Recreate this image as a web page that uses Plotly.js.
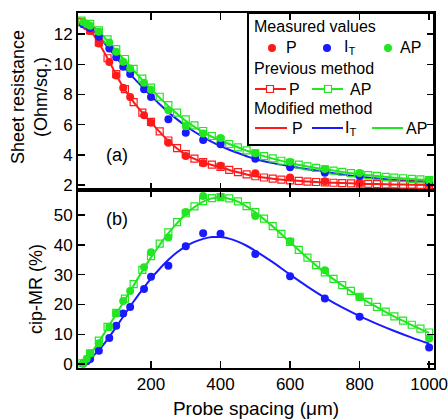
<!DOCTYPE html>
<html>
<head>
<meta charset="utf-8">
<script src="https://cdn.plot.ly/plotly-3.0.1.min.js"></script>
<style>html,body{margin:0;padding:0;background:#fff;}#chart{width:448px;height:419px;}</style>
</head>
<body>
<div id="chart"></div>
<script>
// ---- Data ----
var xMeas = [5, 15, 25, 50, 80, 100, 120, 140, 180, 200, 250, 300, 350, 400, 500, 600, 700, 800, 1000];
// (a) Sheet resistance, measured values
var rsMeasP  = [12.65, 12.5, 12.2, 11.38, 10.15, 9.25, 8.45, 7.83, 6.63, 6.13, 4.8, 3.92, 3.44, 3.28, 2.78, 2.5, 2.25, 2.14, 2.05];
var rsMeasIT = [12.66, 12.6, 12.4, 11.82, 11.05, 10.46, 9.83, 9.35, 8.34, 7.83, 6.36, 5.46, 4.98, 4.71, 3.74, 3.17, 2.82, 2.6, 2.18];
var rsMeasAP = [12.8, 12.66, 12.55, 12.15, 11.45, 10.83, 10.17, 9.73, 8.78, 8.32, 6.95, 5.9, 5.42, 5.11, 4.1, 3.52, 3.06, 2.8, 2.3];
// (b) cip-MR, measured values
var mrMeasIT = [0.2, 1.0, 1.7, 4.5, 8.8, 12.9, 17.0, 19.2, 25.2, 29.3, 33.0, 39.5, 43.9, 43.7, 36.9, 29.5, 22.0, 15.9, 5.6];
var mrMeasAP = [0.3, 1.8, 3.6, 7.0, 12.5, 17.0, 21.2, 24.5, 32.5, 37.5, 42.5, 51.0, 56.4, 56.1, 49.7, 41.2, 31.5, 22.4, 8.6];

// Previous method (open squares)
var xPrev = [0, 25, 50, 75, 100, 125, 150, 175, 200, 225, 250, 275, 300, 325, 350, 375, 400, 425, 450, 475, 500,
             525, 550, 575, 600, 625, 650, 675, 700, 725, 750, 775, 800, 825, 850, 875, 900, 925, 950, 975, 1000];
var rsPrevP  = [12.8, 12.25, 11.45, 10.4, 9.35, 8.35, 7.5, 6.8, 6.18, 5.55, 4.95, 4.45, 4.05, 3.75, 3.52, 3.35, 3.2, 3.0, 2.85, 2.7, 2.58,
                2.5, 2.42, 2.36, 2.31, 2.27, 2.23, 2.2, 2.17, 2.15, 2.13, 2.11, 2.09, 2.08, 2.06, 2.05, 2.04, 2.03, 2.02, 2.01, 2.0];
var rsPrevAP = [12.9, 12.68, 12.25, 11.65, 11.0, 10.35, 9.7, 9.05, 8.45, 7.85, 7.3, 6.8, 6.35, 5.95, 5.58, 5.25, 4.97, 4.72, 4.5, 4.3, 4.1,
                3.92, 3.76, 3.61, 3.47, 3.35, 3.24, 3.14, 3.04, 2.95, 2.87, 2.79, 2.72, 2.66, 2.6, 2.54, 2.49, 2.45, 2.41, 2.37, 2.33];
var mrPrevAP = [0.3, 3.6, 7.9, 12.5, 17.2, 22.0, 26.8, 31.6, 36.2, 40.4, 44.2, 47.6, 50.6, 52.9, 54.7, 55.7, 56.0, 55.6, 54.6, 53.0, 51.0,
                48.8, 46.3, 43.7, 41.0, 38.3, 35.7, 33.2, 30.8, 28.6, 26.5, 24.6, 22.6, 20.9, 19.2, 17.6, 16.0, 14.6, 13.2, 11.9, 10.6];

// Modified method (lines)
var xMod = [0, 25, 50, 75, 100, 125, 150, 175, 200, 225, 250, 275, 300, 325, 350, 375, 400, 425, 450, 475, 500,
            550, 600, 650, 700, 750, 800, 850, 900, 950, 1000];
var rsModP  = [12.75, 12.25, 11.4, 10.4, 9.3, 8.3, 7.5, 6.8, 6.15, 5.52, 4.92, 4.42, 4.02, 3.73, 3.5, 3.33, 3.18, 3.0, 2.85, 2.7, 2.58,
               2.42, 2.31, 2.23, 2.17, 2.13, 2.09, 2.06, 2.04, 2.02, 2.0];
var rsModIT = [12.75, 12.42, 11.85, 11.15, 10.45, 9.75, 9.1, 8.5, 7.92, 7.35, 6.82, 6.35, 5.92, 5.53, 5.18, 4.86, 4.58, 4.34, 4.12, 3.91, 3.72,
               3.45, 3.24, 3.05, 2.88, 2.7, 2.55, 2.43, 2.33, 2.27, 2.22];
var rsModAP = [12.85, 12.62, 12.18, 11.55, 10.9, 10.25, 9.6, 8.97, 8.37, 7.78, 7.22, 6.72, 6.25, 5.85, 5.5, 5.2, 4.95, 4.72, 4.5, 4.28, 4.08,
               3.75, 3.46, 3.23, 3.04, 2.87, 2.72, 2.6, 2.49, 2.4, 2.33];
var mrModIT = [0.1, 1.9, 4.7, 8.3, 12.5, 16.8, 21.0, 25.0, 28.7, 32.0, 35.0, 37.5, 39.5, 41.0, 42.0, 42.6, 42.6, 42.1, 41.1, 39.7, 38.0,
               34.2, 30.0, 26.0, 22.3, 19.0, 16.1, 13.5, 11.1, 8.9, 6.9];
var mrModAP = [0.2, 3.3, 7.5, 12.1, 16.8, 21.6, 26.4, 31.2, 35.8, 40.0, 43.9, 47.3, 50.3, 52.7, 54.5, 55.6, 55.9, 55.5, 54.5, 52.9, 50.9,
               46.2, 40.9, 35.6, 30.7, 26.4, 22.5, 19.1, 15.9, 13.1, 10.5];

var xTicks = [200, 400, 600, 800, 1000];
var rsTicks = [2, 4, 6, 8, 10, 12];
var mrTicks = [0, 10, 20, 30, 40, 50];

// ---- Styles ----
var RED = '#ff1a1a', BLUE = '#1a1aff', GREEN = '#22e622';
var FONT = 'Liberation Sans, Arial, Helvetica, sans-serif';
var W = 448, H = 419, M = {l: 78, r: 14, t: 13, b: 51};

function modLine(x, y, c, ax) {
  return {x: x, y: y, mode: 'lines', line: {color: c, width: 2, shape: 'spline', smoothing: 1},
          xaxis: ax[0], yaxis: ax[1]};
}
function prevSq(x, y, c, ax) {
  return {x: x, y: y, mode: 'markers', marker: {symbol: 'square-open', size: 7, color: c, line: {width: 1.2}},
          xaxis: ax[0], yaxis: ax[1]};
}
function meas(x, y, c, ax) {
  return {x: x, y: y, mode: 'markers', marker: {symbol: 'circle', size: 8, color: c},
          xaxis: ax[0], yaxis: ax[1]};
}
var TOP = ['x2', 'y2'], BOT = ['x', 'y'];

var traces = [
  modLine(xMod, rsModP, RED, TOP),
  modLine(xMod, rsModIT, BLUE, TOP),
  modLine(xMod, rsModAP, GREEN, TOP),
  modLine(xMod, mrModIT, BLUE, BOT),
  modLine(xMod, mrModAP, GREEN, BOT),
  prevSq(xPrev, rsPrevP, RED, TOP),
  prevSq(xPrev, rsPrevAP, GREEN, TOP),
  prevSq(xPrev, mrPrevAP, GREEN, BOT),
  meas(xMeas, rsMeasP, RED, TOP),
  meas(xMeas, rsMeasIT, BLUE, TOP),
  meas(xMeas, rsMeasAP, GREEN, TOP),
  meas(xMeas, mrMeasIT, BLUE, BOT),
  meas(xMeas, mrMeasAP, GREEN, BOT)
];

// ---- Custom legend (paper coords from pixel positions) ----
var pw = W - M.l - M.r, ph = H - M.t - M.b;
function px(x) { return (x - M.l) / pw; }
function py(y) { return (H - M.b - y) / ph; }
var shapes = [], annotations = [];
function legText(t, x, y) {
  annotations.push({text: t, xref: 'paper', yref: 'paper', x: px(x), y: py(y), xanchor: 'left', yanchor: 'middle',
                    showarrow: false, font: {family: FONT, size: 16, color: '#000'}});
}
function legDot(c, x, y) {
  shapes.push({type: 'circle', xref: 'paper', yref: 'paper', x0: px(x - 4), x1: px(x + 4), y0: py(y + 4), y1: py(y - 4),
               fillcolor: c, line: {color: c, width: 0}});
}
function legLine(c, x0, x1, y) {
  shapes.push({type: 'line', xref: 'paper', yref: 'paper', x0: px(x0), x1: px(x1), y0: py(y), y1: py(y),
               line: {color: c, width: 2}});
}
function legSq(c, x, y) {
  shapes.push({type: 'rect', xref: 'paper', yref: 'paper', x0: px(x - 3.5), x1: px(x + 3.5), y0: py(y + 3.5), y1: py(y - 3.5),
               fillcolor: '#fff', line: {color: c, width: 1.2}});
}
shapes.push({type: 'rect', xref: 'paper', yref: 'paper', x0: px(248), x1: 1, y0: py(145), y1: 1,
             fillcolor: 'rgba(0,0,0,0)', line: {color: '#000', width: 2}});
legText('Measured values', 252, 27);
legDot(RED, 272, 48);   legText('P', 284, 48);
legDot(BLUE, 327, 48);  legText('I<sub>T</sub>', 342, 48);
legDot(GREEN, 388, 48); legText('AP', 398, 48);
legText('Previous method', 252, 68);
legLine(RED, 255, 286, 89);   legSq(RED, 270, 89);   legText('P', 287, 89);
legLine(GREEN, 312, 343, 89); legSq(GREEN, 328, 89); legText('AP', 348, 89);
legText('Modified method', 252, 109);
legLine(RED, 255, 287, 128);   legText('P', 290, 128);
legLine(BLUE, 312, 343, 128);  legText('I<sub>T</sub>', 343, 128);
legLine(GREEN, 372, 403, 128); legText('AP', 404, 128);

// panel labels
annotations.push({text: '(a)', xref: 'paper', yref: 'paper', x: px(104), y: py(155), showarrow: false,
                  font: {family: FONT, size: 18, color: '#000'}});
annotations.push({text: '(b)', xref: 'paper', yref: 'paper', x: px(104), y: py(219), showarrow: false,
                  font: {family: FONT, size: 18, color: '#000'}});
// y-axis titles
annotations.push({text: 'Sheet resistance<br>(Ohm/sq.)', xref: 'paper', yref: 'paper', x: px(29), y: py(97),
                  xanchor: 'center', yanchor: 'middle', textangle: -90, showarrow: false,
                  font: {family: FONT, size: 18, color: '#000'}});
annotations.push({text: 'cip-MR (%)', xref: 'paper', yref: 'paper', x: px(36), y: py(289),
                  xanchor: 'center', yanchor: 'middle', textangle: -90, showarrow: false,
                  font: {family: FONT, size: 18, color: '#000'}});

var split = 0.5014;
var axCommon = {ticks: 'inside', ticklen: 7, tickwidth: 1.5, tickcolor: '#000', showline: true, linewidth: 2,
                linecolor: '#000', mirror: 'ticks', zeroline: false, showgrid: false, ticklabeloverflow: 'allow',
                tickfont: {family: FONT, size: 17, color: '#000'}};
function ax(extra) { return Object.assign({}, axCommon, extra); }

var layout = {
  width: W, height: H,
  margin: M,
  showlegend: false,
  paper_bgcolor: '#fff', plot_bgcolor: '#fff',
  font: {family: FONT, color: '#000'},
  xaxis: ax({anchor: 'y', range: [-10, 1014], tickvals: xTicks,
             title: {text: 'Probe spacing (μm)', font: {family: FONT, size: 19}}}),
  xaxis2: ax({anchor: 'y2', matches: 'x', range: [-10, 1014], tickvals: xTicks, showticklabels: false}),
  yaxis: ax({domain: [0, split], range: [-1.3, 58.4], tickvals: mrTicks}),
  yaxis2: ax({domain: [split, 1], range: [1.67, 13.4], tickvals: rsTicks}),
  shapes: shapes,
  annotations: annotations
};

Plotly.newPlot('chart', traces, layout, {staticPlot: true, displayModeBar: false});
</script>
</body>
</html>
